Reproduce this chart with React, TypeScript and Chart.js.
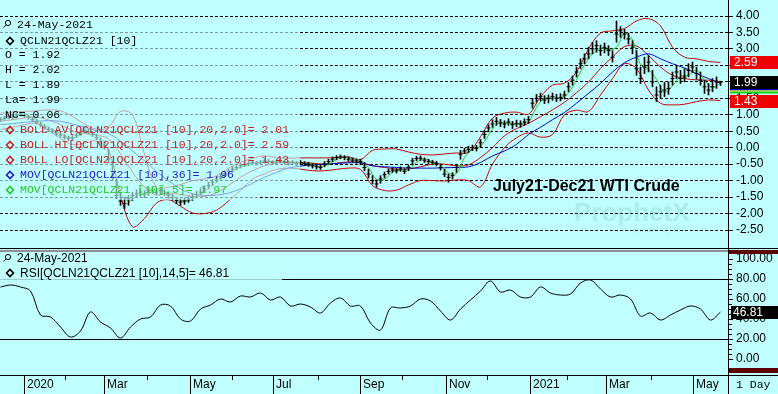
import React, { useEffect, useRef } from 'react';
import { Chart, registerables } from 'chart.js';

Chart.register(...registerables);

const W = 778;
const H = 394;
const TOP_H = 249;
const BOT_H = H - TOP_H;
const AXIS_W = 50;
const BG = '#c0ffff';

// ---------- data ----------
// bars every 2 trading days (x = trading-day index)
const BAR_STEP = 2;
const closes = [0.85,0.90,0.95,0.92,1.00,1.02,0.97,0.93,0.85,0.78,
0.70,0.62,0.55,0.50,0.42,0.38,0.32,0.28,0.30,0.38,
0.45,0.52,0.48,0.40,0.30,0.18,0.05,-0.35,-0.90,-1.45,
-1.62,-1.70,-1.55,-1.45,-1.40,-1.35,-1.42,-1.30,-1.28,-1.35,
-1.30,-1.38,-1.45,-1.52,-1.60,-1.65,-1.62,-1.58,-1.50,-1.42,
-1.35,-1.25,-1.15,-1.05,-0.95,-0.88,-0.80,-0.72,-0.65,-0.60,
-0.55,-0.52,-0.48,-0.45,-0.47,-0.44,-0.40,-0.42,-0.45,-0.43,
-0.40,-0.44,-0.47,-0.45,-0.48,-0.45,-0.48,-0.50,-0.55,-0.58,
-0.60,-0.50,-0.42,-0.35,-0.30,-0.28,-0.30,-0.35,-0.38,-0.40,
-0.42,-0.60,-0.80,-1.00,-1.10,-0.95,-0.82,-0.72,-0.68,-0.70,
-0.65,-0.72,-0.60,-0.40,-0.33,-0.32,-0.38,-0.42,-0.45,-0.48,
-0.60,-0.80,-0.90,-0.85,-0.60,-0.20,-0.10,-0.05,0.00,-0.02,
0.15,0.40,0.60,0.72,0.80,0.75,0.72,0.78,0.70,0.74,
0.72,0.78,0.85,1.35,1.50,1.55,1.45,1.50,1.55,1.50,
1.52,1.60,1.85,2.05,2.30,2.55,2.70,2.85,3.00,3.10,
2.95,3.05,2.95,2.75,3.45,3.55,3.45,3.30,3.05,2.40,
2.10,2.45,2.60,2.00,1.60,1.70,1.75,1.80,2.10,2.30,
2.10,2.15,2.35,2.45,2.25,2.05,1.85,1.75,1.85,2.00,
1.99];
const highs = [0.92,0.96,1.02,0.99,1.06,1.08,1.04,0.99,0.93,0.86,
0.78,0.70,0.63,0.58,0.50,0.45,0.40,0.35,0.37,0.45,
0.52,0.58,0.56,0.49,0.40,0.28,0.18,-0.05,-0.40,-0.95,
-1.35,-1.50,-1.45,-1.35,-1.28,-1.25,-1.30,-1.20,-1.18,-1.24,
-1.20,-1.28,-1.35,-1.42,-1.50,-1.55,-1.52,-1.48,-1.40,-1.32,
-1.25,-1.15,-1.05,-0.96,-0.86,-0.80,-0.72,-0.65,-0.58,-0.53,
-0.48,-0.46,-0.42,-0.39,-0.41,-0.38,-0.34,-0.36,-0.39,-0.37,
-0.34,-0.38,-0.41,-0.39,-0.42,-0.39,-0.42,-0.44,-0.48,-0.51,
-0.52,-0.42,-0.35,-0.28,-0.24,-0.22,-0.24,-0.28,-0.31,-0.34,
-0.35,-0.45,-0.65,-0.85,-0.98,-0.85,-0.74,-0.65,-0.61,-0.63,
-0.58,-0.64,-0.52,-0.32,-0.26,-0.25,-0.31,-0.35,-0.38,-0.41,
-0.50,-0.66,-0.80,-0.76,-0.50,-0.08,0.00,0.04,0.08,0.07,
0.25,0.52,0.70,0.85,0.92,0.86,0.82,0.88,0.80,0.84,
0.82,0.88,0.95,1.50,1.62,1.66,1.58,1.60,1.66,1.62,
1.64,1.72,1.98,2.18,2.45,2.70,2.85,3.05,3.20,3.25,
3.12,3.18,3.10,2.95,3.85,3.68,3.60,3.48,3.25,2.95,
2.45,2.75,2.80,2.35,1.85,1.90,1.98,2.00,2.30,2.50,
2.35,2.40,2.55,2.60,2.45,2.30,2.05,1.95,2.10,2.15,
2.02];
const lows = [0.80,0.84,0.88,0.86,0.93,0.96,0.92,0.86,0.80,0.72,
0.64,0.56,0.49,0.44,0.36,0.31,0.26,0.21,0.24,0.31,
0.38,0.45,0.42,0.34,0.24,0.10,-0.05,-0.45,-1.00,-1.55,
-1.75,-1.85,-1.75,-1.60,-1.52,-1.48,-1.52,-1.45,-1.38,-1.44,
-1.40,-1.46,-1.54,-1.60,-1.70,-1.75,-1.72,-1.66,-1.60,-1.52,
-1.44,-1.35,-1.25,-1.15,-1.05,-0.96,-0.88,-0.80,-0.72,-0.67,
-0.62,-0.58,-0.55,-0.51,-0.53,-0.50,-0.46,-0.48,-0.51,-0.49,
-0.46,-0.50,-0.53,-0.51,-0.54,-0.52,-0.55,-0.57,-0.62,-0.65,
-0.66,-0.58,-0.50,-0.42,-0.37,-0.34,-0.37,-0.41,-0.44,-0.47,
-0.52,-0.70,-0.92,-1.10,-1.20,-1.08,-0.92,-0.80,-0.75,-0.77,
-0.72,-0.79,-0.70,-0.52,-0.40,-0.39,-0.45,-0.49,-0.52,-0.55,
-0.68,-0.88,-1.05,-0.95,-0.75,-0.35,-0.18,-0.14,-0.09,-0.10,
0.02,0.28,0.48,0.62,0.68,0.64,0.60,0.68,0.58,0.64,
0.62,0.68,0.74,1.20,1.38,1.42,1.34,1.36,1.44,1.40,
1.42,1.48,1.70,1.90,2.15,2.40,2.55,2.70,2.85,2.90,
2.80,2.88,2.80,2.60,3.20,3.35,3.30,3.15,2.85,2.20,
1.95,2.25,2.30,1.85,1.40,1.50,1.55,1.62,1.90,2.10,
1.95,2.00,2.15,2.28,2.08,1.90,1.65,1.60,1.70,1.80,
1.89];

// 5-day moving average, every 4 trading days
const MA5_STEP = 4;
const ma5 = [0.85,0.90,0.96,1.00,0.92,0.78,0.62,0.49,0.37,0.30,
0.38,0.48,0.39,0.18,-0.40,-1.32,-1.62,-1.47,-1.39,-1.33,
-1.31,-1.38,-1.52,-1.62,-1.57,-1.42,-1.25,-1.05,-0.88,-0.72,
-0.60,-0.52,-0.47,-0.44,-0.42,-0.43,-0.44,-0.47,-0.47,-0.51,
-0.58,-0.51,-0.36,-0.29,-0.34,-0.40,-0.61,-0.97,-0.96,-0.74,
-0.68,-0.66,-0.44,-0.34,-0.42,-0.51,-0.77,-0.78,-0.30,-0.05,
0.04,0.38,0.71,0.76,0.73,0.72,0.78,1.23,1.50,1.50,
1.52,1.66,2.07,2.52,2.85,3.02,2.98,3.05,3.48,3.27,
2.52,2.38,2.07,1.68,1.88,2.17,2.20,2.35,2.05,1.82,
1.97];

// Bollinger bands and 36-day average, every 6 trading days
const IND_STEP = 6;
const bbMid = [0.80,0.85,0.90,0.93,0.84,0.70,0.52,0.43,0.38,0.27,
-0.18,-0.74,-1.20,-1.44,-1.38,-1.42,-1.48,-1.48,-1.37,-1.15,
-0.90,-0.70,-0.55,-0.47,-0.43,-0.45,-0.47,-0.50,-0.47,-0.43,
-0.45,-0.55,-0.60,-0.65,-0.65,-0.58,-0.50,-0.50,-0.55,-0.52,
-0.30,0.00,0.36,0.58,0.74,0.94,1.15,1.38,1.67,1.99,
2.41,2.75,3.07,3.09,2.80,2.45,2.20,2.10,2.06,2.05,
2.01];
const bbUp = [1.05,1.08,1.10,1.12,1.15,1.12,0.95,0.72,0.56,0.62,
1.10,1.00,-0.20,-1.20,-1.20,-1.12,-1.00,-0.95,-0.85,-0.62,
-0.45,-0.32,-0.25,-0.30,-0.32,-0.31,-0.31,-0.31,-0.30,-0.28,
-0.36,-0.08,-0.04,-0.04,-0.13,-0.20,-0.22,-0.19,-0.16,-0.14,
0.33,0.90,1.05,1.08,1.02,1.54,1.90,1.96,2.30,3.00,
3.48,3.55,3.62,3.85,3.92,3.70,3.05,2.75,2.70,2.62,
2.59];
const bbLo = [0.55,0.62,0.70,0.74,0.53,0.28,0.09,0.14,0.20,-0.08,
-1.46,-2.40,-2.15,-1.68,-1.58,-1.78,-1.98,-2.00,-1.90,-1.62,
-1.30,-0.95,-0.80,-0.66,-0.62,-0.65,-0.70,-0.70,-0.66,-0.62,
-0.66,-1.15,-1.30,-1.29,-1.13,-1.00,-1.00,-1.01,-0.98,-1.00,
-1.19,-0.50,0.00,0.30,0.45,0.32,0.40,1.00,1.14,1.10,
1.60,2.10,2.55,2.40,1.75,1.35,1.30,1.32,1.40,1.45,
1.43];
const ma36 = [0.70,0.73,0.77,0.80,0.82,0.80,0.72,0.62,0.52,0.43,
0.20,-0.10,-0.40,-0.72,-1.00,-1.25,-1.40,-1.45,-1.44,-1.38,
-1.25,-1.08,-0.90,-0.75,-0.62,-0.56,-0.52,-0.50,-0.48,-0.46,
-0.46,-0.55,-0.58,-0.60,-0.62,-0.62,-0.62,-0.61,-0.60,-0.58,
-0.45,-0.25,-0.10,0.10,0.40,0.62,0.85,1.07,1.35,1.65,
1.95,2.30,2.58,2.75,2.85,2.70,2.55,2.42,2.25,2.10,
1.96];

// RSI every 5 trading days
const RSI_STEP = 5;
const rsi = [72,74,72,68,44,42,32,22,28,47,
37,31,21,32,40,42,54,53,40,38,
50,54,60,57,63,62,66,59,62,53,
55,52,46,56,61,53,53,36,29,51,
51,53,60,58,48,39,50,59,68,78,
67,69,62,62,72,66,64,65,76,79,
70,62,64,60,43,46,39,44,49,53,
50,39,47];

// axis ticks
const priceTicks = [4.0,3.5,3.0,2.5,2.0,1.5,1.0,0.5,0.0,-0.5,-1.0,-1.5,-2.0,-2.5];
const rsiTicks = [0,20,40,60,80,100];
const rsiGuideLevels = [20,80];
const monthMajorDays = [12,52,95,136.5,180,223,265,303,346.5];
const monthMajorLabels = ['2020','Mar','May','Jul','Sep','Nov','2021','Mar','May'];
const monthMinorDays = [32.5,73.5,116,159,201,243.5,283.5,325.5];

// legend texts / last values
const legendDate = '24-May-2021';
const symbolLabel = 'QCLN21QCLZ21 [10]';
const ohlcLines = ['O = 1.92','H = 2.02','L = 1.89','La= 1.99','NC= 0.06'];
const studyLines: [string, string][] = [
  ['BOLL AV[QCLN21QCLZ21 [10],20,2.0]= 2.01', '#c42424'],
  ['BOLL HI[QCLN21QCLZ21 [10],20,2.0]= 2.59', '#c42424'],
  ['BOLL LO[QCLN21QCLZ21 [10],20,2.0]= 1.43', '#c42424'],
  ['MOV[QCLN21QCLZ21 [10],36]= 1.96', '#1c1cc8'],
  ['MOV[QCLN21QCLZ21 [10],5]= 1.97', '#28c828'],
];
const rsiLabel = 'RSI[QCLN21QCLZ21 [10],14,5]= 46.81';
const chartTitle = 'July21-Dec21 WTI Crude';
const lastClose = 1.99;
const lastUpper = 2.59;
const lastLower = 1.43;
const lastRsi = 46.81;

const X_MIN = -0.25;
const X_MAX = 363.75;
const PRICE_MIN = -3.077;
const PRICE_MAX = 4.486;
const RSI_MIN = -16;
const RSI_MAX = 108;

const RED = '#c80000';
const BLUE = '#0000c8';
const GREEN = '#14d014';
const SANS = 'Liberation Sans';
const MONO = 'Liberation Mono';

function txt(ctx: any, s: string, x: number, y: number, font: string, color: string, align = 'left') {
  ctx.font = font;
  ctx.fillStyle = color;
  ctx.textAlign = align;
  ctx.textBaseline = 'middle';
  ctx.fillText(s, x, y);
}
function diamond(ctx: any, x: number, y: number, color: string) {
  ctx.save();
  ctx.strokeStyle = color;
  ctx.lineWidth = 1.6;
  ctx.beginPath();
  ctx.moveTo(x - 3.5, y);
  ctx.lineTo(x, y - 3.5);
  ctx.lineTo(x + 3.5, y);
  ctx.lineTo(x, y + 3.5);
  ctx.closePath();
  ctx.stroke();
  ctx.restore();
}
function lens(ctx: any, x: number, y: number) {
  ctx.save();
  ctx.strokeStyle = '#000';
  ctx.lineWidth = 1;
  ctx.beginPath();
  ctx.arc(x + 1, y - 1, 2.6, 0, Math.PI * 2);
  ctx.stroke();
  ctx.beginPath();
  ctx.moveTo(x - 1, y + 1);
  ctx.lineTo(x - 3.5, y + 3.5);
  ctx.stroke();
  ctx.restore();
}

function lineSet(values: number[], step: number, color: string) {
  return {
    type: 'line',
    data: values.map((v, i) => ({ x: i * step, y: v })),
    borderColor: color,
    borderWidth: 1,
    pointRadius: 0,
    pointHoverRadius: 0,
    tension: 0.35,
    fill: false,
  };
}

function axisAfterFit(scale: any) {
  scale.width = AXIS_W;
  scale.paddingTop = 0;
  scale.paddingBottom = 0;
}

const xScale = {
  type: 'linear',
  min: X_MIN,
  max: X_MAX,
  offset: false,
  display: false,
  grid: { offset: false },
};

function buildTopConfig() {
  const decor = {
    id: 'topDecor',
    beforeDatasetsDraw(chart: any) {
      const ctx = chart.ctx;
      ctx.save();
      ctx.textBaseline = 'alphabetic';
      ctx.textAlign = 'left';
      ctx.fillStyle = 'rgba(100,185,185,0.25)';
      ctx.font = `bold 26px ${SANS}`;
      ctx.fillText('ProphetX', 574, 221);
      ctx.font = `7px ${SANS}`;
      ctx.fillText('powered by DTN', 634, 232);
      ctx.restore();
    },
    afterDatasetsDraw(chart: any) {
      const ctx = chart.ctx;
      ctx.save();
      ctx.fillStyle = 'rgba(192,255,255,0.62)';
      ctx.fillRect(0, 18, 300, 172);
      ctx.fillRect(0, 190, 258, 10);
      const mono = `11.5px ${MONO}`;
      lens(ctx, 7, 24);
      txt(ctx, legendDate, 17, 25, mono, '#000');
      diamond(ctx, 10, 41, '#000');
      txt(ctx, symbolLabel, 20, 41, mono, '#000');
      ohlcLines.forEach((s, i) => txt(ctx, s, 5, 55 + i * 15, mono, '#000'));
      studyLines.forEach(([s, c], i) => {
        const y = 130 + i * 15;
        diamond(ctx, 10, y, c);
        txt(ctx, s, 20, y, mono, c);
      });
      txt(ctx, chartTitle, 493, 187, `bold 16px ${SANS}`, '#000');
      ctx.restore();
    },
    afterDraw(chart: any) {
      const ctx = chart.ctx;
      const yS = chart.scales.y;
      const left = chart.chartArea.right + 2;
      ctx.save();
      const tag = (v: number, bg: string, fg: string) => {
        const y = Math.round(yS.getPixelForValue(v));
        ctx.fillStyle = bg;
        ctx.fillRect(left, y - 6, W - left, 13);
        txt(ctx, v.toFixed(2), left + 4, y + 0.5, `12px ${SANS}`, fg);
        return y;
      };
      tag(lastUpper, '#f00000', '#fff');
      tag(lastLower, '#f00000', '#fff');
      const yc = tag(lastClose, '#000', '#fff');
      ctx.fillStyle = BLUE;
      ctx.fillRect(left, yc + 7, W - left, 1.5);
      ctx.fillStyle = '#e8e800';
      ctx.fillRect(left, yc + 8.5, W - left, 1);
      ctx.fillStyle = GREEN;
      ctx.fillRect(left, yc + 9.5, W - left, 2);
      ctx.fillStyle = '#000';
      ctx.fillRect(0, TOP_H - 1, W, 1);
      ctx.restore();
    },
  };

  return {
    type: 'line',
    data: {
      datasets: [
        {
          type: 'bar',
          data: highs.map((h, i) => ({ x: i * BAR_STEP, y: [lows[i], h] })),
          backgroundColor: '#000',
          borderWidth: 0,
          barThickness: 1,
          grouped: false,
        },
        {
          type: 'line',
          data: closes.map((c, i) => ({ x: i * BAR_STEP, y: c })),
          showLine: false,
          pointStyle: 'line',
          pointRadius: 2,
          pointHoverRadius: 0,
          pointBorderWidth: 1,
          pointBorderColor: '#000',
          pointBackgroundColor: '#000',
        },
        lineSet(ma5, MA5_STEP, GREEN),
        lineSet(ma36, IND_STEP, BLUE),
        lineSet(bbMid, IND_STEP, RED),
        lineSet(bbUp, IND_STEP, RED),
        lineSet(bbLo, IND_STEP, RED),
      ],
    },
    options: {
      animation: false,
      responsive: false,
      maintainAspectRatio: false,
      devicePixelRatio: 1,
      events: [],
      layout: { padding: 0, autoPadding: false },
      plugins: { legend: { display: false }, tooltip: { enabled: false } },
      scales: {
        x: xScale,
        y: {
          type: 'linear',
          position: 'right',
          min: PRICE_MIN,
          max: PRICE_MAX,
          offset: false,
          afterBuildTicks: (s: any) => { s.ticks = priceTicks.map((v) => ({ value: v })); },
          afterFit: axisAfterFit,
          border: { display: true, color: '#000', width: 1, dash: [3, 2] },
          grid: { color: '#000', lineWidth: 1, drawTicks: true, tickLength: 5, tickColor: '#000', tickBorderDash: [] },
          ticks: {
            autoSkip: false,
            padding: 3,
            color: '#000',
            font: { family: SANS, size: 12 },
            callback: (v: any) => Number(v).toFixed(2),
          },
        },
      },
    },
    plugins: [decor],
  };
}

function buildBottomConfig() {
  const decor = {
    id: 'botDecor',
    afterDatasetsDraw(chart: any) {
      const ctx = chart.ctx;
      ctx.save();
      ctx.fillStyle = 'rgba(192,255,255,0.8)';
      ctx.fillRect(0, 2, 282, 29);
      lens(ctx, 7, 9);
      txt(ctx, legendDate, 17, 9.5, `12px ${SANS}`, '#000');
      diamond(ctx, 10, 24, '#000');
      txt(ctx, rsiLabel, 20, 24.5, `12px ${SANS}`, '#000');
      ctx.restore();
    },
    afterDraw(chart: any) {
      const ctx = chart.ctx;
      const xS = chart.scales.x;
      const yS = chart.scales.y;
      const area = chart.chartArea;
      const right = area.right;
      ctx.save();
      ctx.fillStyle = '#909090';
      ctx.fillRect(0, 1, right, 2);
      ctx.fillStyle = '#5c0000';
      ctx.fillRect(right + 1, 1, W - right, 4);
      ctx.fillRect(right + 1, area.bottom - 7, W - right, 5);
      ctx.fillStyle = '#000';
      ctx.fillRect(right, 0, 1, BOT_H);
      ctx.fillRect(0, area.bottom, W, 1);
      for (let v = 0; v <= 100; v += 5) {
        if (v % 20 === 0) continue;
        const y = Math.round(yS.getPixelForValue(v));
        ctx.fillRect(right + 1, y, 3, 1);
      }
      const labY = area.bottom + 10;
      monthMajorDays.forEach((d, i) => {
        const px = Math.floor(xS.getPixelForValue(d));
        ctx.fillStyle = '#000';
        ctx.fillRect(px, area.bottom, 1, BOT_H - area.bottom);
        txt(ctx, monthMajorLabels[i], px + 3, labY, `12px ${SANS}`, '#000');
      });
      monthMinorDays.forEach((d) => {
        const px = Math.floor(xS.getPixelForValue(d));
        ctx.fillStyle = '#000';
        ctx.fillRect(px, area.bottom, 1, 5);
      });
      txt(ctx, '1 Day', right + 8, labY, `11.5px ${MONO}`, '#000');
      const ty = Math.round(yS.getPixelForValue(lastRsi));
      ctx.fillStyle = '#000';
      ctx.fillRect(right + 3, ty - 6, W - right - 3, 13);
      txt(ctx, lastRsi.toFixed(2), right + 5, ty + 0.5, `12px ${SANS}`, '#fff');
      ctx.restore();
    },
  };

  return {
    type: 'line',
    data: {
      datasets: [
        {
          data: rsi.map((v, i) => ({ x: i * RSI_STEP, y: v })),
          borderColor: '#000',
          borderWidth: 1,
          pointRadius: 0,
          pointHoverRadius: 0,
          tension: 0.35,
          fill: false,
        },
      ],
    },
    options: {
      animation: false,
      responsive: false,
      maintainAspectRatio: false,
      devicePixelRatio: 1,
      events: [],
      layout: { padding: { top: 2, bottom: 19, left: 0, right: 0 }, autoPadding: false },
      plugins: { legend: { display: false }, tooltip: { enabled: false } },
      scales: {
        x: xScale,
        y: {
          type: 'linear',
          position: 'right',
          min: RSI_MIN,
          max: RSI_MAX,
          afterBuildTicks: (s: any) => { s.ticks = rsiTicks.map((v) => ({ value: v })); },
          afterFit: axisAfterFit,
          border: { display: true, color: '#000', width: 1 },
          grid: {
            color: (c: any) => (c.tick && rsiGuideLevels.includes(c.tick.value) ? '#000' : 'rgba(0,0,0,0)'),
            lineWidth: 1,
            drawTicks: true,
            tickLength: 5,
            tickColor: '#000',
          },
          ticks: {
            autoSkip: false,
            padding: 3,
            color: '#000',
            font: { family: SANS, size: 12 },
            callback: (v: any) => Number(v).toFixed(2),
          },
        },
      },
    },
    plugins: [decor],
  };
}

export default function App() {
  const topRef = useRef<HTMLCanvasElement | null>(null);
  const botRef = useRef<HTMLCanvasElement | null>(null);

  useEffect(() => {
    const top = new Chart(topRef.current as HTMLCanvasElement, buildTopConfig() as any);
    const bot = new Chart(botRef.current as HTMLCanvasElement, buildBottomConfig() as any);
    return () => {
      top.destroy();
      bot.destroy();
    };
  }, []);

  return (
    <div style={{ position: 'absolute', left: 0, top: 0, width: W, height: H, background: BG, overflow: 'hidden' }}>
      <canvas ref={topRef} width={W} height={TOP_H} style={{ position: 'absolute', left: 0, top: 0, width: W, height: TOP_H }} />
      <canvas ref={botRef} width={W} height={BOT_H} style={{ position: 'absolute', left: 0, top: TOP_H, width: W, height: BOT_H }} />
    </div>
  );
}
